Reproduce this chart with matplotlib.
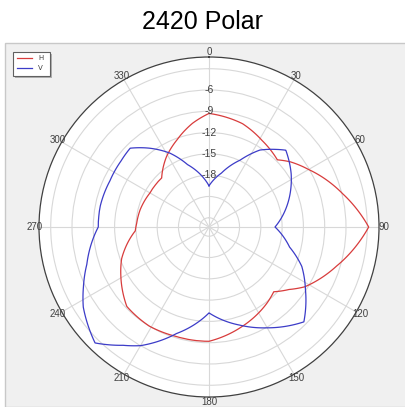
import numpy as np
import matplotlib
matplotlib.use("Agg")
from matplotlib import pyplot as plt
from matplotlib.patches import Rectangle
from matplotlib.lines import Line2D

# gain in dB, angle in degrees (clockwise from top)
h_ang = [0, 18, 31.5, 45.5, 51.4, 60, 76, 90, 107, 122, 128, 135, 143, 162, 180,
         197, 211, 226, 241, 250, 267, 273, 284, 300, 316, 329, 340, 351, 360]
h_db = [-9.3, -10.0, -11.0, -11.8, -10.6, -9.1, -5.9, -2.8, -6.5, -9.4, -11.0, -12.4, -11.8, -10.5, -9.2,
        -9.2, -9.0, -9.2, -11.1, -12.2, -14.9, -15.1, -15.3, -15.7, -15.7, -13.7, -12.2, -10.5, -9.3]

v_ang = [0, 13, 25, 33.5, 40.6, 45, 57, 71, 90, 104, 113, 123, 135, 150, 162.5, 180,
         197, 210, 216, 224.5, 237.5, 244.5, 253, 270, 281, 295, 307, 315, 323, 332, 341, 360]
v_db = [-19.5, -17.5, -14.9, -12.3, -10.9, -10.0, -11.5, -13.4, -16.0, -13.6, -11.1, -9.1, -6.4, -8.9, -10.8, -13.2,
        -9.6, -6.0, -4.7, -2.4, -4.3, -5.7, -7.3, -9.7, -9.7, -9.9, -9.8, -9.6, -11.4, -13.5, -16.0, -19.5]

r_labels = [-6, -9, -12, -15, -18]
rings = [-24, -21, -18, -15, -12, -9, -6, -3]
r_min, r_max = -25.3, -1.35

fig = plt.figure(figsize=(4.06, 4.07), dpi=100, facecolor="white")

# grey chart area under the title
bg = Rectangle((5 / 406, 0), 1, 1 - 43 / 407, transform=fig.transFigure,
               facecolor="#f0f0f0", edgecolor="#c8c8c8", lw=1, zorder=-1)
fig.patches.append(bg)
fig.text(0.5, 1 - 22 / 407, "2420 Polar", ha="center", va="center",
         fontsize=18, family="Liberation Sans")

ax = fig.add_axes([39 / 406, 10 / 407, 340 / 406, 340 / 407], projection="polar")
ax.set_zorder(1)
ax.set_facecolor("white")
ax.set_theta_zero_location("N")
ax.set_theta_direction(-1)
ax.set_rlim(r_min, r_max)
ax.set_yticks(rings)
ax.set_yticklabels([])
ax.set_xticks(np.deg2rad(np.arange(0, 360, 30)))
ax.set_xticklabels([str(a) for a in range(0, 360, 30)], fontsize=7, color="#404040",
                   family="Liberation Sans")
ax.tick_params(axis="x", pad=-7)
ax.grid(color="#d8d8d8", lw=0.8)
ax.spines["polar"].set_color("#404040")
ax.spines["polar"].set_linewidth(0.9)

for v in r_labels:
    ax.text(0, v, str(v), ha="center", va="center", fontsize=7.5, color="#404040",
            family="Liberation Sans")

lh, = ax.plot(np.deg2rad(h_ang), h_db, color="#d83c3c", lw=0.9)
lv, = ax.plot(np.deg2rad(v_ang), v_db, color="#3c3cc8", lw=0.9)
# draw segments as curves in polar space (like the original chart)
for ln in (lh, lv):
    ln.get_path()._interpolation_steps = 40

# legend box with drop shadow
fig.patches.append(Rectangle((15 / 406, 1 - 78 / 407), 37 / 406, 24 / 407, transform=fig.transFigure,
                             facecolor="#b0b0b0", edgecolor="none", zorder=5))
fig.patches.append(Rectangle((13 / 406, 1 - 76 / 407), 37 / 406, 24 / 407, transform=fig.transFigure,
                             facecolor="white", edgecolor="#606060", lw=0.8, zorder=6))
for i, (c, lab) in enumerate([("#d83c3c", "H"), ("#3c3cc8", "V")]):
    y = 1 - (58 + i * 10) / 407
    fig.lines.append(Line2D([17 / 406, 32 / 406], [y, y], transform=fig.transFigure,
                            color=c, lw=0.9, zorder=7))
    fig.text(38 / 406, y, lab, fontsize=5, va="center", color="#404040", zorder=7)

plt.savefig("out.png", dpi=100)
